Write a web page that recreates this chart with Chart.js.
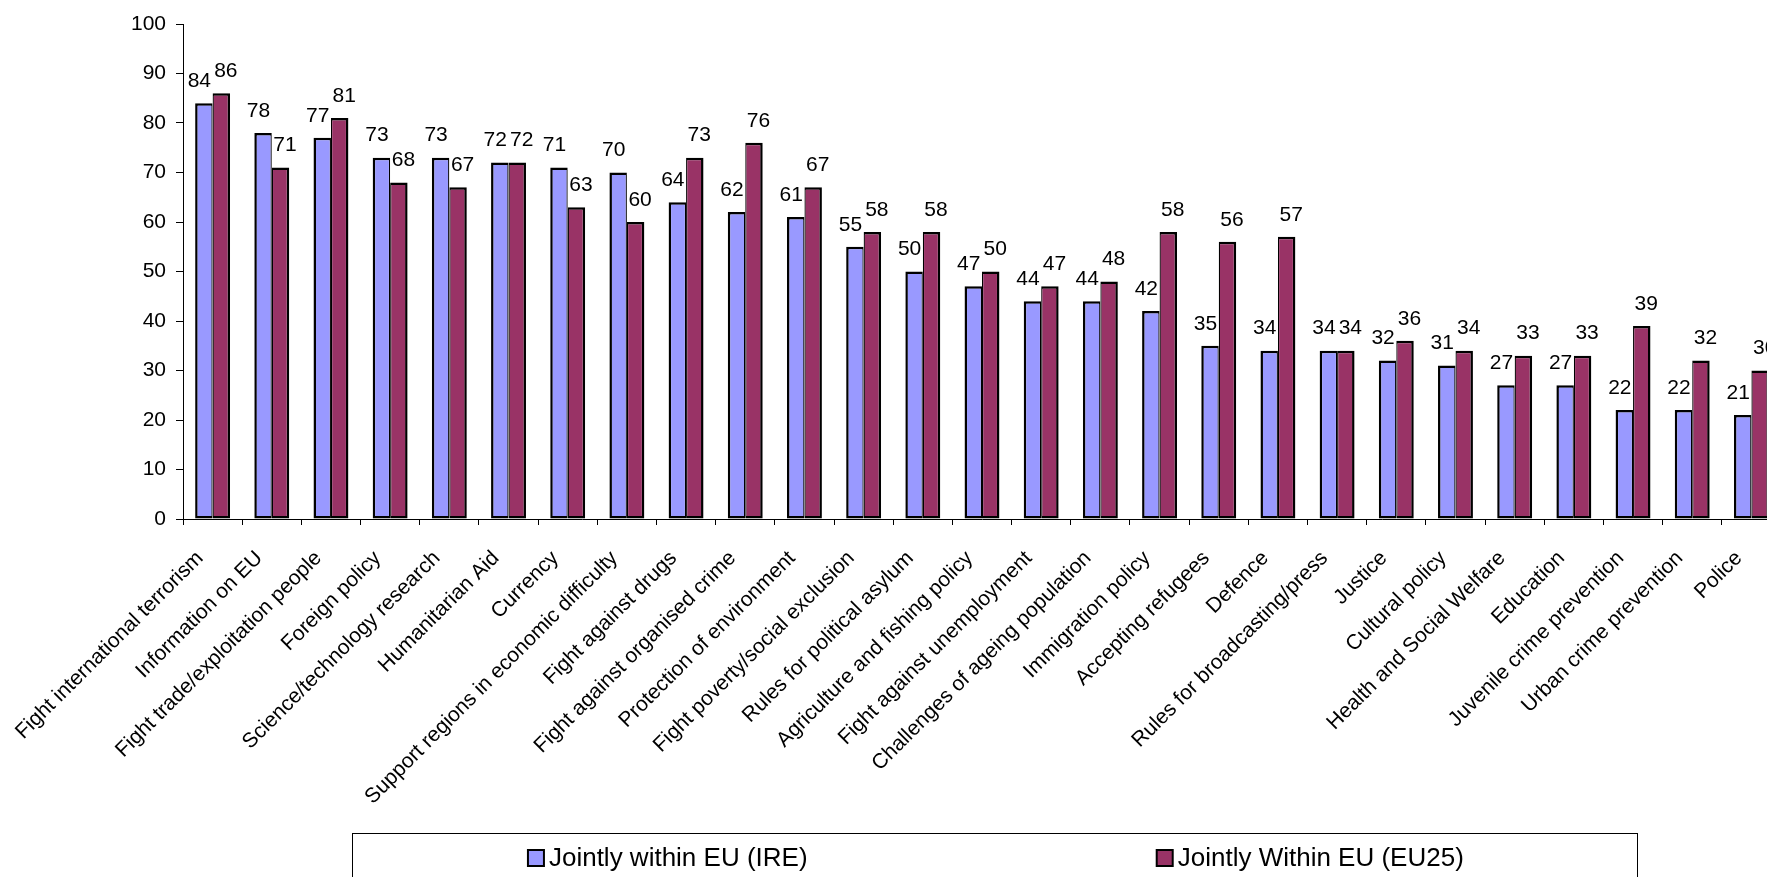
<!DOCTYPE html>
<html>
<head>
<meta charset="utf-8">
<script src="https://cdn.jsdelivr.net/npm/chart.js@4/dist/chart.umd.min.js"></script>
<style>
  html, body { margin: 0; padding: 0; background: #fff; overflow: hidden; }
  #wrap { width: 1790px; height: 877px; position: relative; }
</style>
</head>
<body>
<div id="wrap"><canvas id="chart"></canvas></div>
<script>
// Policy areas, ordered by the Irish figure
const categories = [
  'Fight international terrorism', 'Information on EU', 'Fight trade/exploitation people',
  'Foreign policy', 'Science/technology research', 'Humanitarian Aid', 'Currency',
  'Support regions in economic difficulty', 'Fight against drugs', 'Fight against organised crime',
  'Protection of environment', 'Fight poverty/social exclusion', 'Rules for political asylum',
  'Agriculture and fishing policy', 'Fight against unemployment', 'Challenges of ageing population',
  'Immigration policy', 'Accepting refugees', 'Defence', 'Rules for broadcasting/press',
  'Justice', 'Cultural policy', 'Health and Social Welfare', 'Education',
  'Juvenile crime prevention', 'Urban crime prevention', 'Police'
];

const seriesNames = ['Jointly within EU (IRE)', 'Jointly Within EU (EU25)'];

const ireValues = [84, 78, 77, 73, 73, 72, 71, 70, 64, 62, 61, 55, 50, 47, 44, 44, 42, 35, 34, 34, 32, 31, 27, 27, 22, 22, 21];
const eu25Values = [86, 71, 81, 68, 67, 72, 63, 60, 73, 76, 67, 58, 58, 50, 47, 48, 58, 56, 57, 34, 36, 34, 33, 33, 39, 32, 30];

const yTicks = [0, 10, 20, 30, 40, 50, 60, 70, 80, 90, 100];

const FONT = '"Liberation Sans", Arial, sans-serif';
Chart.defaults.font.family = FONT;
Chart.defaults.color = '#000';

// Value labels above each bar, the two labels of a pair spread slightly apart
const valueLabels = {
  id: 'valueLabels',
  afterDatasetsDraw(chart) {
    const ctx = chart.ctx;
    ctx.save();
    ctx.font = '21px ' + FONT;
    ctx.fillStyle = '#000';
    ctx.textAlign = 'center';
    ctx.textBaseline = 'middle';
    chart.data.datasets.forEach((ds, di) => {
      const meta = chart.getDatasetMeta(di);
      const dx = di === 0 ? -4.5 : 4.5;
      meta.data.forEach((bar, i) => {
        ctx.fillText(String(ds.data[i]), bar.x + dx, bar.y - 22);
      });
    });
    ctx.restore();
  }
};

// Boxed legend along the bottom edge, items centred in each half of the box
const boxedLegend = {
  id: 'boxedLegend',
  afterDraw(chart, args, opts) {
    const ctx = chart.ctx;
    const left = opts.left, right = opts.right, top = opts.top;
    ctx.save();
    ctx.strokeStyle = '#000';
    ctx.lineWidth = 1;
    ctx.strokeRect(left + 0.5, top + 0.5, right - left, chart.height + 10 - top);
    ctx.font = opts.fontSize + 'px ' + FONT;
    ctx.textBaseline = 'middle';
    ctx.textAlign = 'left';
    const n = chart.data.datasets.length;
    const slot = (right - left) / n;
    const cy = top + opts.rowOffset;
    const sq = opts.box;
    chart.data.datasets.forEach((ds, di) => {
      const tw = ctx.measureText(ds.label).width;
      const total = sq + opts.gap + tw;
      const cx = left + slot * (di + 0.5) + opts.shift;
      const x0 = cx - total / 2;
      ctx.fillStyle = '#000';
      ctx.fillRect(x0, cy - sq / 2, sq, sq);
      ctx.fillStyle = ds.backgroundColor;
      ctx.fillRect(x0 + 2, cy - sq / 2 + 2, sq - 4, sq - 4);
      ctx.fillStyle = '#000';
      ctx.fillText(ds.label, x0 + sq + opts.gap, cy + 1);
    });
    ctx.restore();
  }
};

const whiteBg = {
  id: 'whiteBg',
  beforeDraw(chart) {
    const ctx = chart.ctx;
    ctx.save();
    ctx.fillStyle = '#fff';
    ctx.fillRect(0, 0, chart.width, chart.height);
    ctx.restore();
  }
};

new Chart(document.getElementById('chart'), {
  type: 'bar',
  data: {
    labels: categories,
    datasets: [
      {
        label: seriesNames[0],
        data: ireValues,
        backgroundColor: '#9999FF',
        borderColor: '#000',
        borderWidth: { top: 2.5, left: 2.5, right: 1.25, bottom: 2.5 },
        borderSkipped: false
      },
      {
        label: seriesNames[1],
        data: eu25Values,
        backgroundColor: '#993366',
        borderColor: '#000',
        borderWidth: { top: 2.5, left: 1.25, right: 2.5, bottom: 2.5 },
        borderSkipped: false
      }
    ]
  },
  options: {
    responsive: true,
    maintainAspectRatio: false,
    animation: false,
    devicePixelRatio: 1,
    categoryPercentage: 0.59,
    barPercentage: 1.0,
    layout: { padding: { top: 24, left: 0, right: 9, bottom: 0 } },
    plugins: {
      legend: { display: false },
      tooltip: { enabled: false },
      boxedLegend: { left: 352, right: 1637, top: 833, rowOffset: 25, box: 18, gap: 4, fontSize: 26, shift: -6 }
    },
    scales: {
      x: {
        grid: { display: true, drawOnChartArea: false, drawTicks: true, tickLength: 6, color: '#000', offset: true },
        border: { display: true, color: '#000', width: 1 },
        ticks: {
          autoSkip: false, minRotation: 45, maxRotation: 45,
          padding: 21, labelOffset: -12.5,
          font: { size: 21 }, color: '#000'
        },
        afterFit(scale) {
          scale.paddingLeft = 0;
          scale.paddingRight = 0;
          scale.height = 358;
        }
      },
      y: {
        min: 0, max: 100,
        afterBuildTicks(scale) { scale.ticks = yTicks.map(v => ({ value: v })); },
        grid: { display: true, drawOnChartArea: false, drawTicks: true, tickLength: 7, color: '#000' },
        border: { display: true, color: '#000', width: 1 },
        ticks: { padding: 10, font: { size: 21 }, color: '#000' },
        afterFit(scale) { scale.width = 183; }
      }
    }
  },
  plugins: [whiteBg, valueLabels, boxedLegend]
});
</script>
</body>
</html>
